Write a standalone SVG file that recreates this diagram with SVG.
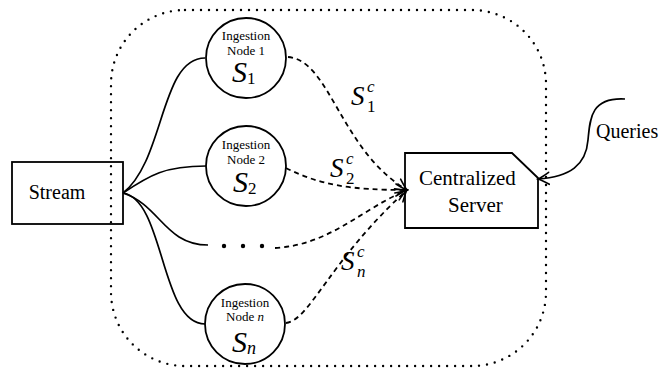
<svg xmlns="http://www.w3.org/2000/svg" width="664" height="373" viewBox="0 0 664 373">
<style>
text{font-family:'Liberation Serif',Tinos,'Times New Roman',serif;fill:#000}
.small{font-size:13px}
.big{font-size:20px}
.it{font-style:italic}
.solid{fill:none;stroke:#000;stroke-width:1.7}
.dash{fill:none;stroke:#000;stroke-width:1.8;stroke-dasharray:5 4}
.box{fill:none;stroke:#000;stroke-width:1.8}
</style>
<defs>
<marker id="arr" viewBox="-12 -8 14 16" refX="0" refY="0" markerWidth="14" markerHeight="16" markerUnits="userSpaceOnUse" orient="auto">
<path d="M-11,-6 Q-4,-1.5 0,0 Q-4,1.5 -11,6" fill="none" stroke="#000" stroke-width="1.6" stroke-linecap="round"/>
</marker>
</defs>
<rect x="111" y="10" width="435" height="356" rx="74" ry="74" fill="none" stroke="#000" stroke-width="2.4" stroke-dasharray="0 8" stroke-linecap="round"/>
<g id="stream">
<rect class="box" x="12" y="162" width="111" height="62"/>
<text class="big" x="57" y="199" text-anchor="middle">Stream</text>
</g>
<g id="node1">
<circle class="box" cx="246" cy="58" r="40"/>
<text class="small" x="246" y="40" text-anchor="middle">Ingestion</text>
<text class="small" x="246" y="55" text-anchor="middle">Node 1</text>
<text class="it" x="232" y="82" font-size="30">S<tspan font-style="normal" font-size="17" dy="2">1</tspan></text>
</g>
<g id="node2">
<circle class="box" cx="246" cy="166" r="40"/>
<text class="small" x="246" y="149" text-anchor="middle">Ingestion</text>
<text class="small" x="246" y="164" text-anchor="middle">Node 2</text>
<text class="it" x="233" y="192" font-size="30">S<tspan font-style="normal" font-size="17" dy="2">2</tspan></text>
</g>
<g id="noden">
<circle class="box" cx="245" cy="324" r="40"/>
<text class="small" x="245" y="307" text-anchor="middle">Ingestion</text>
<text class="small" x="245" y="321" text-anchor="middle">Node <tspan font-style="italic">n</tspan></text>
<text class="it" x="232" y="352" font-size="30">S<tspan font-size="18" dy="2">n</tspan></text>
</g>
<g id="dots">
<circle cx="224" cy="246" r="2.2"/>
<circle cx="243" cy="246" r="2.2"/>
<circle cx="262" cy="246" r="2.2"/>
</g>
<g id="server">
<path class="box" d="M405,153 L512,153 L538,178 L538,228 L405,228 Z"/>
<text x="419" y="185" font-size="21">Centralized</text>
<text x="448" y="212" font-size="21">Server</text>
</g>
<g id="queries">
<text class="big" x="596" y="138">Queries</text>
</g>
<g id="connectors">
<path class="solid" d="M123,193 C165,160 160,58 205,58"/>
<path class="solid" d="M123,193 C150,175 165,166 206,166"/>
<path class="solid" d="M123,193 C160,205 165,245 208,245"/>
<path class="solid" d="M123,193 C165,200 160,324 205,324"/>
<path class="dash" d="M288,57 C330,60 340,150 407,190" marker-end="url(#arr)"/>
<path class="dash" d="M286,168 C320,185 350,190 407,190" marker-end="url(#arr)"/>
<path class="dash" d="M275,248 C330,245 360,210 407,190" marker-end="url(#arr)"/>
<path class="dash" d="M286,323 C310,320 330,260 407,190" marker-end="url(#arr)"/>
<path class="solid" d="M625,99 C590,97 590,120 588,140 C586,165 570,177 538,179" marker-end="url(#arr)"/>
</g>
<g id="labels">
<text class="it" x="351" y="105" font-size="27">S</text>
<text class="it" x="367" y="92" font-size="17">c</text>
<text x="367" y="112" font-size="17">1</text>
<text class="it" x="330" y="177" font-size="27">S</text>
<text class="it" x="346" y="164" font-size="17">c</text>
<text x="346" y="184" font-size="17">2</text>
<text class="it" x="341" y="270" font-size="27">S</text>
<text class="it" x="357" y="257" font-size="17">c</text>
<text class="it" x="357" y="277" font-size="17">n</text>
</g>
</svg>
